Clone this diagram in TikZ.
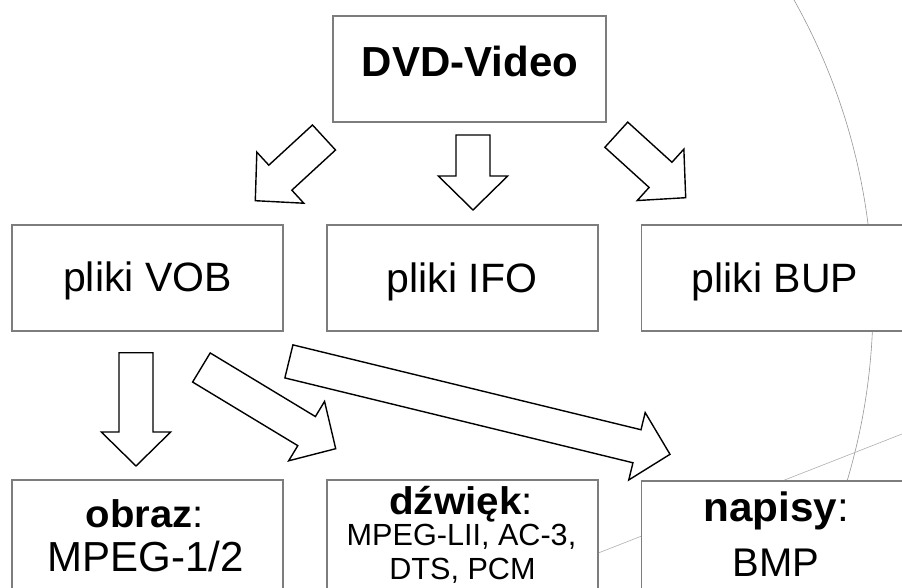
\documentclass[tikz,border=0pt]{standalone}
\usepackage{fontspec}
\usepackage{graphicx}
\setmainfont{Liberation Sans}
\usetikzlibrary{calc}
\definecolor{boxline}{RGB}{125,125,125}
\definecolor{discline}{RGB}{150,150,150}
\definecolor{glint}{RGB}{175,175,175}
\newcommand{\blockarrow}[2]{%
  \path ($(#2)!34pt!(#1)$) coordinate (hb);
  \draw[blk] ($(#1)!17pt!90:(#2)$) -- ($(hb)!17pt!90:(#2)$) -- ($(hb)!34.7pt!90:(#2)$) -- (#2)
    -- ($(hb)!34.7pt!-90:(#2)$) -- ($(hb)!17pt!-90:(#2)$) -- ($(#1)!17pt!-90:(#2)$) -- cycle;}
\begin{document}
\begin{tikzpicture}[x=1pt,y=-1pt,
  box/.style={draw=boxline, line width=1.3pt, fill=white, rectangle, inner sep=0pt},
  txt/.style={anchor=base, inner sep=0pt, text=black},
  blk/.style={draw=black, line width=1.4pt, fill=white, line join=miter}]
\useasboundingbox (0,0) rectangle (902,588);
\clip (0,0) rectangle (902,588);
% disc outline in the background
\draw[discline, line width=0.6pt] (253,303) circle [radius=620pt];
\draw[glint, line width=0.6pt] (560,568) -- (902,434);
% boxes
\node[box, minimum width=273pt, minimum height=106pt] (dvd) at (469.5,69) {};
\node[box, minimum width=271pt, minimum height=106pt] (vob) at (147.5,278) {};
\node[box, minimum width=271pt, minimum height=106pt] (ifo) at (462.5,278) {};
\node[box, minimum width=271pt, minimum height=106pt] (bup) at (777,278) {};
\node[box, minimum width=271pt, minimum height=130pt] (obraz) at (147.5,545) {};
\node[box, minimum width=271pt, minimum height=130pt] (dzwiek) at (462.5,545) {};
\node[box, minimum width=271pt, minimum height=130pt] (napisy) at (777,546) {};
% texts
\node[txt, font=\bfseries\fontsize{42}{50}\selectfont] (tdvd) at (470,76.7) {DVD-Video};
\node[txt, font=\fontsize{41}{49}\selectfont] (tvob) at (147.5,291.7) {pliki VOB};
\node[txt, font=\fontsize{41}{49}\selectfont] (tifo) at (462,292) {pliki IFO};
\node[txt, font=\fontsize{41}{49}\selectfont] (tbup) at (775,292) {pliki BUP};
\node[txt, font=\fontsize{38.5}{46}\selectfont] (tobraz) at (144.5,527.5) {\scalebox{1.04}[1]{\textbf{obraz}:}};
\node[txt, font=\fontsize{42}{50}\selectfont] (tobraz2) at (145.5,571) {MPEG-1/2};
\node[txt, font=\fontsize{38.5}{46}\selectfont] (tdzw) at (461,514) {\scalebox{1.05}[1]{\textbf{dźwięk}:}};
\node[txt, font=\fontsize{30.6}{36}\selectfont] (tdzw2) at (461.5,545.5) {MPEG-LII, AC-3,};
\node[txt, font=\fontsize{30.6}{36}\selectfont] (tdzw3) at (462.5,579) {DTS, PCM};
\node[txt, font=\fontsize{41}{48}\selectfont] (tnap) at (776,521.7) {\scalebox{1.03}[1]{\textbf{napisy}:}};
\node[txt, font=\fontsize{40}{48}\selectfont] (tnap2) at (776,576.7) {BMP};
% arrow end points
\coordinate (a1s) at (324,137.5);   \coordinate (a1e) at (255.3,200.7);
\coordinate (a2s) at (473,135);     \coordinate (a2e) at (473,210);
\coordinate (a3s) at (616.3,134.7); \coordinate (a3e) at (685.7,197.7);
\coordinate (a4s) at (136,352.7);   \coordinate (a4e) at (136,466);
\coordinate (a5s) at (201.4,367.5); \coordinate (a5e) at (335.7,448.7);
\coordinate (a6s) at (288.9,361.4); \coordinate (a6e) at (670,454.3);
\blockarrow{a1s}{a1e}
\blockarrow{a2s}{a2e}
\blockarrow{a3s}{a3e}
\blockarrow{a4s}{a4e}
\blockarrow{a5s}{a5e}
\blockarrow{a6s}{a6e}
\end{tikzpicture}
\end{document}
